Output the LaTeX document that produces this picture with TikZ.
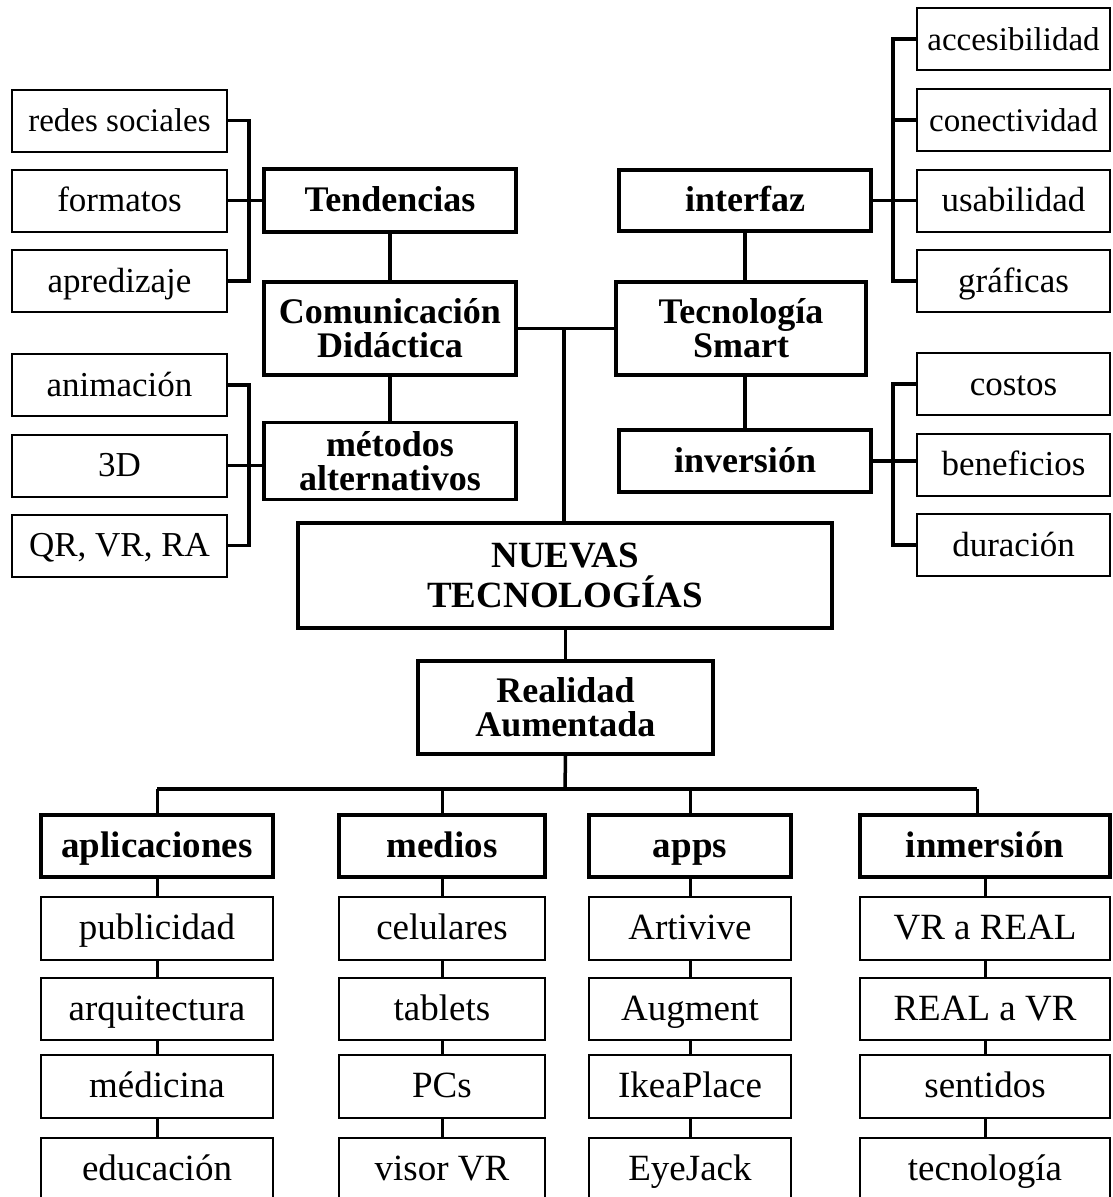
\documentclass[tikz,border=0pt]{standalone}
\usepackage{fontspec}
\setmainfont{Liberation Serif}
\usetikzlibrary{calc}
\begin{document}
\begin{tikzpicture}[x=1pt,y=-1pt,
  leaf/.style={draw, line width=2pt, inner sep=0pt, minimum height=62pt, text height=26pt, text depth=4pt, font=\fontsize{35}{36}\selectfont},
  leafs/.style={leaf, font=\fontsize{33}{36}\selectfont},
  leafb/.style={leaf, font=\fontsize{37}{38}\selectfont},
  head/.style={draw, line width=3.5pt, inner sep=0pt, align=center, font=\fontsize{36}{34}\selectfont\bfseries},
  headone/.style={head, text height=26pt, text depth=4pt},
  conn/.style={line width=3.5pt},
  thinconn/.style={line width=3pt}]
\useasboundingbox (0,0) rectangle (1112,1197);
% ---- left top group
\node[leafs, minimum width=215pt] (redes) at (119.5,120.5) {redes sociales};
\node[leaf, minimum width=215pt] (form) at (119.5,200.5) {formatos};
\node[leaf, minimum width=215pt] (apre) at (119.5,281) {apredizaje};
\node[headone, minimum width=252pt, minimum height=63pt] (tend) at (390,200.5) {Tendencias};
\node[head, minimum width=252pt, minimum height=93pt] (comdid) at (390,328.5) {Comunicación\\Didáctica};
\node[head, minimum width=252pt, minimum height=77pt] (metodos) at (390,461) {métodos\\alternativos};
\node[leaf, minimum width=215pt] (anim) at (119.5,385) {animación};
\node[leaf, minimum width=215pt] (tresd) at (119.5,465.5) {3D};
\node[leaf, minimum width=215pt] (qr) at (119.5,545.5) {QR, VR, RA};
\coordinate (bL) at (249,200);
% ---- right top group
\node[leafs, minimum width=193pt] (acc) at (1013.5,39) {accesibilidad};
\node[leafs, minimum width=193pt] (conect) at (1013.5,120) {conectividad};
\node[leaf, minimum width=193pt] (usab) at (1013.5,200.5) {usabilidad};
\node[leaf, minimum width=193pt] (graf) at (1013.5,281) {gráficas};
\node[headone, minimum width=252pt, minimum height=61pt] (interfaz) at (745,200.5) {interfaz};
\node[head, minimum width=250pt, minimum height=93pt] (tecs) at (741,328.5) {Tecnología\\Smart};
\node[headone, minimum width=252pt, minimum height=62pt] (inver) at (745,461) {inversión};
\node[leaf, minimum width=193pt] (cost) at (1013.5,384) {costos};
\node[leaf, minimum width=193pt] (benef) at (1013.5,464.5) {beneficios};
\node[leaf, minimum width=193pt] (durac) at (1013.5,545) {duración};
\coordinate (bR) at (893,200);
% ---- center
\node[head, minimum width=534pt, minimum height=105pt, font=\fontsize{37}{40}\selectfont\bfseries] (nuevas) at (565,575.5) {NUEVAS\\TECNOLOGÍAS};
\node[head, minimum width=295pt, minimum height=93pt] (ra) at (565.5,707.5) {Realidad\\Aumentada};
\coordinate (hub) at (564,328.5);
\coordinate (bus) at (565,789);
% ---- bottom columns
\foreach \n/\x/\w/\a/\b/\c/\d/\e in {
  c1/157/232/aplicaciones/publicidad/arquitectura/médicina/educación,
  c2/442/206/medios/celulares/tablets/PCs/visor VR,
  c3/690/202/apps/Artivive/Augment/IkeaPlace/EyeJack,
  c4/985/250/inmersión/VR a REAL/REAL a VR/sentidos/tecnología}{
  \node[headone, minimum width=\w pt, minimum height=62pt, font=\fontsize{37}{39}\selectfont\bfseries] (\n h) at (\x,846) {\a};
  \node[leafb, minimum width=\w pt, minimum height=63pt] (\n r1) at (\x,928.5) {\b};
  \node[leafb, minimum width=\w pt] (\n r2) at (\x,1009) {\c};
  \node[leafb, minimum width=\w pt, minimum height=63pt] (\n r3) at (\x,1086.5) {\d};
  \node[leafb, minimum width=\w pt] (\n r4) at (\x,1169) {\e};
  \draw[thinconn] (\n h.south) -- (\n r1.north);
  \draw[thinconn] (\n r1.south) -- (\n r2.north);
  \draw[thinconn] (\n r2.south) -- (\n r3.north);
  \draw[thinconn] (\n r3.south) -- (\n r4.north);
}
% ---- connectors left
\draw[conn] (redes.east) -| (bL |- apre.east) -- (apre.east);
\draw[conn] (form.east) -- (tend.west);
\draw[conn] (tend.south) -- (comdid.north);
\draw[conn] (comdid.south) -- (metodos.north);
\draw[conn] (anim.east) -| (bL |- qr.east) -- (qr.east);
\draw[conn] (tresd.east) -- (tresd.east -| metodos.west);
% ---- connectors right
\draw[conn] (acc.west) -| (bR |- graf.west) -- (graf.west);
\draw[conn] (conect.west) -- (conect.west -| bR);
\draw[conn] (interfaz.east) -- (usab.west);
\draw[conn] (interfaz.south) -- (tecs.north -| interfaz.south);
\draw[conn] (tecs.south -| inver.north) -- (inver.north);
\draw[conn] (cost.west) -| (bR |- durac.west) -- (durac.west);
\draw[conn] (inver.east) -- (inver.east -| benef.west);
% ---- center connectors
\draw[conn] (comdid.east) -- (tecs.west);
\draw[conn] (hub) -- (hub |- nuevas.north);
\draw[conn] (nuevas.south -| ra.north) -- (ra.north);
\draw[conn] (ra.south) -- (bus);
\draw[conn] (c1h.north |- bus) -- ($(c4h.north |- bus)+(-8,0)$);
\draw[thinconn] (c1h.north |- bus) -- (c1h.north);
\draw[thinconn] (c2h.north |- bus) -- (c2h.north);
\draw[thinconn] (c3h.north |- bus) -- (c3h.north);
\draw[thinconn] ($(c4h.north |- bus)+(-8,0)$) -- ($(c4h.north)+(-8,0)$);
\end{tikzpicture}
\end{document}
